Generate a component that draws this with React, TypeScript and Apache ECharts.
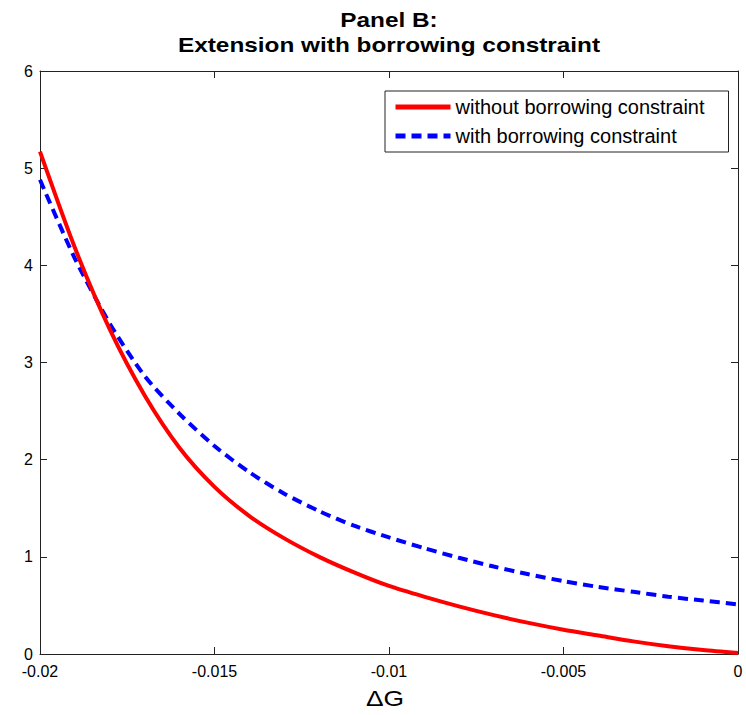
import React, { useEffect, useRef } from "react";
import * as echarts from "echarts";

const xValues = [-0.02, -0.019, -0.018, -0.017, -0.016, -0.015, -0.014, -0.013, -0.012, -0.011, -0.01, -0.009, -0.008, -0.007, -0.006, -0.005, -0.004, -0.003, -0.002, -0.001, 0];
const withoutConstraint = [5.17, 4.18, 3.34, 2.66, 2.12, 1.72, 1.42, 1.19, 1.0, 0.84, 0.7, 0.59, 0.49, 0.4, 0.32, 0.25, 0.19, 0.13, 0.08, 0.04, 0.01];
const withConstraint = [4.88, 4.07, 3.4, 2.86, 2.47, 2.14, 1.87, 1.65, 1.47, 1.32, 1.2, 1.09, 0.99, 0.9, 0.82, 0.75, 0.69, 0.64, 0.59, 0.55, 0.51];
const seriesNames = ["without borrowing constraint", "with borrowing constraint"];
const titleLines = ["Panel B:", "Extension with borrowing constraint"];
const xAxisName = "ΔG";

const FONT = "'Liberation Sans', Arial, sans-serif";

export default function App() {
  const ref = useRef<HTMLDivElement>(null);
  useEffect(() => {
    if (!ref.current) return;
    const chart = echarts.init(ref.current, null, { renderer: "svg" });
    const pair = (ys: number[]) => xValues.map((x, i) => [x, ys[i]]);
    const axisLineStyle = { color: "#222", width: 1 };
    const gridLeft = 40, gridRight = 8, gridTop = 71, gridBottom = 61;
    const plotCenterX = gridLeft + (746 - gridLeft - gridRight) / 2;
    chart.setOption({
      animation: false,
      backgroundColor: "#fff",
      textStyle: { fontFamily: FONT },
      grid: { left: gridLeft, right: gridRight, top: gridTop, bottom: gridBottom },
      graphic: [
        {
          type: "text",
          x: plotCenterX,
          y: 20,
          scaleX: 1.16,
          style: { text: titleLines[0], font: `bold 21px ${FONT}`, fill: "#000", textAlign: "center", textVerticalAlign: "middle" },
        },
        {
          type: "text",
          x: plotCenterX,
          y: 45,
          scaleX: 1.16,
          style: { text: titleLines[1], font: `bold 21px ${FONT}`, fill: "#000", textAlign: "center", textVerticalAlign: "middle" },
        },
        {
          type: "text",
          x: plotCenterX - 4,
          y: 698,
          scaleX: 1.2,
          style: { text: xAxisName, font: `22px ${FONT}`, fill: "#000", textAlign: "center", textVerticalAlign: "middle" },
        },
      ],
      legend: {
        orient: "vertical",
        left: 385,
        top: 91,
        padding: [6, 24, 6, 8],
        itemWidth: 55,
        itemHeight: 14,
        itemGap: 9,
        borderColor: "#222",
        borderWidth: 1,
        backgroundColor: "#fff",
        itemStyle: { color: "transparent", borderColor: "transparent", borderWidth: 0 },
        lineStyle: { width: 5 },
        textStyle: { fontSize: 20, color: "#000", fontFamily: FONT },
        data: seriesNames,
      },
      xAxis: [
        {
          type: "value",
          min: -0.02,
          max: 0,
          interval: 0.005,
          position: "bottom",
          splitLine: { show: false },
          axisLine: { show: true, onZero: false, lineStyle: axisLineStyle },
          axisTick: { show: true, inside: true, length: 7, lineStyle: axisLineStyle },
          axisLabel: {
            margin: 9,
            fontSize: 16,
            color: "#000",
            fontFamily: FONT,
            formatter: (v: number) => String(+v.toFixed(3)),
          },
        },
        {
          type: "value",
          min: -0.02,
          max: 0,
          interval: 0.005,
          position: "top",
          splitLine: { show: false },
          axisLine: { show: true, onZero: false, lineStyle: axisLineStyle },
          axisTick: { show: true, inside: true, length: 7, lineStyle: axisLineStyle },
          axisLabel: { show: false },
        },
      ],
      yAxis: [
        {
          type: "value",
          min: 0,
          max: 6,
          interval: 1,
          position: "left",
          splitLine: { show: false },
          axisLine: { show: true, onZero: false, lineStyle: axisLineStyle },
          axisTick: { show: true, inside: true, length: 7, lineStyle: axisLineStyle },
          axisLabel: { margin: 7, fontSize: 16, color: "#000", fontFamily: FONT },
        },
        {
          type: "value",
          min: 0,
          max: 6,
          interval: 1,
          position: "right",
          splitLine: { show: false },
          axisLine: { show: true, onZero: false, lineStyle: axisLineStyle },
          axisTick: { show: true, inside: true, length: 7, lineStyle: axisLineStyle },
          axisLabel: { show: false },
        },
      ],
      series: [
        {
          name: seriesNames[0],
          type: "line",
          data: pair(withoutConstraint),
          symbol: "none",
          smooth: 0.25,
          color: "#ff0000",
          lineStyle: { color: "#ff0000", width: 4 },
          z: 3,
        },
        {
          name: seriesNames[1],
          type: "line",
          data: pair(withConstraint),
          symbol: "none",
          smooth: 0.25,
          color: "#0000ff",
          lineStyle: { color: "#0000ff", width: 4, type: [10, 6] },
          z: 2,
        },
      ],
    });
    return () => chart.dispose();
  }, []);
  return (
    <div
      ref={ref}
      style={{ position: "fixed", left: 0, top: 0, width: 746, height: 715, background: "#fff" }}
    />
  );
}
